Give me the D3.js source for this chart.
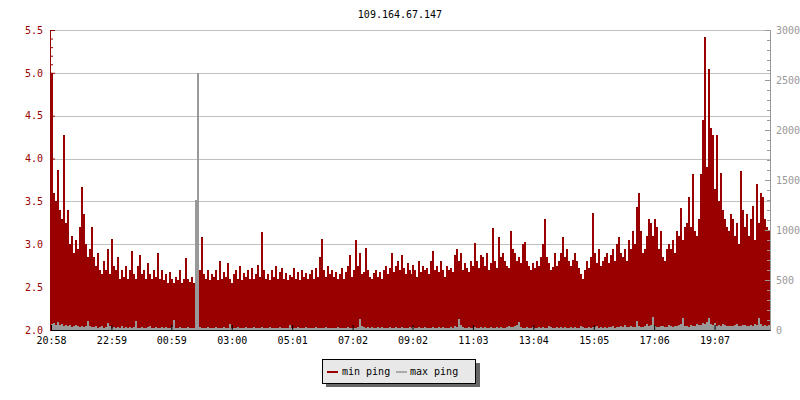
<!DOCTYPE html>
<html><head><meta charset="utf-8">
<script src="https://cdn.jsdelivr.net/npm/d3@7/dist/d3.min.js"></script>
<style>
body{margin:0;background:#fff}
svg{display:block}
text{font-family:"DejaVu Sans Mono",monospace;font-size:10px}
</style>
</head><body><svg id="c" width="800" height="400"></svg>
<script>
const title = "109.164.67.147";
const startTime = "2024-01-01T20:58:00";
const spanMinutes = 1440;
const stepMinutes = 4;

const minPing = [
5.0,3.6,3.5,3.87,3.4,3.3,4.27,3.25,3.4,3.0,3.1,2.9,3.05,2.95,3.2,3.67,3.35,3.0,2.85,2.95,
3.2,2.85,2.75,2.9,2.7,2.65,2.8,2.7,2.94,2.65,3.06,2.75,2.7,2.85,2.6,2.7,2.62,2.75,2.6,2.7,
2.92,2.65,2.6,2.75,2.88,2.65,2.7,2.6,2.78,2.65,2.6,2.7,2.62,2.9,2.6,2.7,2.58,2.65,2.55,2.68,
2.6,2.55,2.62,2.58,2.7,2.55,2.6,2.84,2.6,2.56,2.62,2.55,2.68,2.6,2.7,3.08,2.65,2.6,2.7,2.58,
2.65,2.62,2.7,2.58,2.8,2.6,2.68,2.62,2.78,2.6,2.55,2.65,2.7,2.6,2.75,2.58,2.66,2.62,2.7,2.6,
2.72,2.6,2.65,2.76,2.62,3.14,2.7,2.6,2.65,2.58,2.7,2.62,2.75,2.6,2.68,2.72,2.6,2.66,2.58,2.64,
2.62,2.72,2.6,2.68,2.58,2.7,2.62,2.66,2.6,2.65,2.7,2.6,2.72,2.62,2.85,3.06,2.7,2.62,2.75,2.65,
2.7,2.62,2.68,2.6,2.65,2.72,2.6,2.68,2.75,2.88,2.62,2.7,3.05,2.75,2.9,2.65,2.68,2.96,2.7,2.62,
2.6,2.66,2.7,2.62,2.68,2.6,2.7,2.75,2.65,2.72,2.9,2.68,2.75,2.8,2.7,2.88,2.72,2.65,2.78,2.7,
2.65,2.76,2.7,2.62,2.8,2.68,2.75,2.7,2.72,2.65,2.8,2.92,2.7,2.75,2.68,2.8,2.7,2.62,2.75,2.7,
2.72,2.68,2.88,2.95,2.8,2.9,2.7,2.78,2.72,2.68,2.8,2.75,3.02,2.8,2.72,2.88,2.85,2.75,2.9,2.7,
2.78,3.19,2.8,2.72,3.08,2.85,2.9,2.8,2.75,2.72,3.16,2.95,2.9,2.8,2.85,2.78,3.0,3.03,2.8,2.75,
2.7,2.78,2.72,2.8,2.75,2.85,3.0,3.3,2.85,2.78,2.7,2.74,2.9,2.75,2.8,2.9,3.08,2.85,2.95,2.8,
2.75,2.82,2.9,2.8,2.72,2.65,2.6,2.7,2.8,2.72,2.85,3.37,2.9,2.78,2.95,2.75,2.8,2.85,2.9,2.78,
2.88,2.95,2.8,3.0,3.08,2.9,2.85,2.95,2.8,3.05,2.95,3.15,3.0,3.43,3.6,3.15,2.9,2.95,3.1,3.3,
3.25,3.1,3.3,3.2,2.95,3.15,2.85,2.8,2.95,3.0,2.95,3.05,2.9,3.15,3.1,3.42,3.05,3.2,3.25,3.55,
3.2,3.82,3.15,3.1,3.3,3.82,4.45,5.42,3.9,5.05,4.36,4.27,3.65,4.27,3.5,3.83,3.4,3.3,3.2,3.15,
3.35,3.3,3.1,3.25,3.0,3.86,3.4,3.2,3.35,3.1,3.3,3.45,3.05,3.7,3.25,3.6,3.55,3.3,3.2,3.15
];

const maxPing = [
60,70,50,80,55,60,45,50,40,55,35,45,50,40,30,45,35,40,90,40,
30,35,40,25,30,45,20,35,70,40,25,30,20,35,25,40,20,30,25,35,
20,30,90,25,20,35,25,20,30,40,20,25,30,20,25,35,20,30,20,25,
30,100,25,20,30,20,25,20,30,20,25,20,1300,2570,30,20,25,20,30,20,
25,20,30,20,20,25,30,20,25,60,20,25,20,30,20,25,20,30,20,25,
20,30,20,25,20,30,25,20,20,30,20,25,20,25,30,20,20,25,20,50,
20,25,20,30,20,20,25,30,20,20,25,20,30,20,25,20,20,30,20,25,
20,25,20,30,20,25,20,20,30,25,20,25,20,30,110,40,30,25,35,20,
30,25,20,35,25,30,20,25,20,30,25,20,35,20,25,30,20,25,20,30,
20,30,25,20,35,20,25,30,20,25,20,30,20,25,35,20,30,20,25,20,
30,25,40,35,110,50,30,25,20,30,20,25,30,20,25,30,20,35,25,20,
30,20,25,35,20,30,25,20,30,40,35,30,45,50,80,30,25,20,30,25,
20,30,25,20,35,25,30,20,25,40,30,25,20,30,25,35,20,30,25,20,
30,25,35,20,25,40,30,25,20,30,25,35,30,40,25,30,20,35,25,30,
30,40,25,35,30,45,30,50,35,30,40,35,30,90,40,35,30,45,60,40,
50,130,40,35,30,45,40,35,30,50,40,35,45,40,50,60,120,45,40,35,
50,40,45,60,55,50,70,60,80,120,60,50,70,45,55,40,60,50,45,40,
45,40,50,60,45,40,55,50,45,40,50,45,60,50,120,60,45,50,40,50
];

const xTickLabels = ["20:58","22:59","00:59","03:00","05:01","07:02","09:02","11:03","13:04","15:05","17:06","19:07"];
const leftTicks = [2.0,2.5,3.0,3.5,4.0,4.5,5.0,5.5];
const rightTicks = [0,500,1000,1500,2000,2500,3000];
const legendLabels = ["min ping","max ping"];

const RED = "#990000", GRAY = "#999999";
const svg = d3.select("#c");
const start = new Date(startTime);
const end = new Date(start.getTime() + spanMinutes * 60000);
const x = d3.scaleTime().domain([start, end]).range([51, 770]);
const yL = d3.scaleLinear().domain([2, 5.5]).range([330, 30]);
const yR = d3.scaleLinear().domain([0, 3000]).range([330, 30]);

const timeAt = i => new Date(start.getTime() + i * stepMinutes * 60000);
const withEnd = arr => arr.map((v, i) => ({t: timeAt(i), v})).concat([{t: timeAt(arr.length), v: arr[arr.length - 1]}]);

// tick times from labels (roll over midnight)
let dayOffset = 0, prevMin = -1;
const tickTimes = xTickLabels.map(l => {
  const [h, m] = l.split(":").map(Number);
  const mins = h * 60 + m;
  if (prevMin >= 0 && mins < prevMin) dayOffset += 1;
  prevMin = mins;
  const d = new Date(start); d.setHours(h, m, 0, 0); d.setDate(d.getDate() + dayOffset);
  return d;
});

// title
svg.append("text").attr("x", 400).attr("y", 18).attr("text-anchor", "middle").attr("fill", "#000").text(title);

// grid
svg.append("g").selectAll("line").data(leftTicks).join("line")
  .attr("x1", 51).attr("x2", 770)
  .attr("y1", d => Math.round(yL(d)) + 0.5).attr("y2", d => Math.round(yL(d)) + 0.5)
  .attr("stroke", "#c0c0c0").attr("shape-rendering", "crispEdges");

const clip = svg.append("clipPath").attr("id", "pc").append("rect").attr("x", 51).attr("y", 0).attr("width", 719).attr("height", 330);
const plot = svg.append("g").attr("clip-path", "url(#pc)");

plot.append("path").datum(withEnd(minPing))
  .attr("d", d3.area().curve(d3.curveStepAfter).x(d => x(d.t)).y0(330).y1(d => yL(d.v)))
  .attr("fill", RED).attr("shape-rendering", "crispEdges");

plot.append("path").datum(withEnd(maxPing))
  .attr("d", d3.area().curve(d3.curveStepAfter).x(d => x(d.t)).y0(330).y1(d => yR(d.v)))
  .attr("fill", GRAY).attr("shape-rendering", "crispEdges");

// left axis
const minorL = d3.range(20, 56).map(v => v / 10);
svg.append("g").attr("transform", "translate(50,0)")
  .call(d3.axisLeft(yL).tickValues(minorL).tickSize(-3).tickFormat(""))
  .call(g => g.selectAll("path,line").attr("stroke", RED));
svg.append("g").attr("transform", "translate(50,0)")
  .call(d3.axisLeft(yL).tickValues(leftTicks).tickSizeInner(-5).tickSizeOuter(0).tickPadding(7).tickFormat(d3.format(".1f")))
  .call(g => g.selectAll("path,line").attr("stroke", RED))
  .call(g => g.selectAll("text").attr("fill", RED).style("font-size", "10px").style("font-family", "DejaVu Sans Mono"));

// right axis
const minorR = d3.range(0, 31).map(v => v * 100);
svg.append("g").attr("transform", "translate(770,0)")
  .call(d3.axisRight(yR).tickValues(minorR).tickSize(-3).tickFormat(""))
  .call(g => g.selectAll("path,line").attr("stroke", GRAY));
svg.append("g").attr("transform", "translate(770,0)")
  .call(d3.axisRight(yR).tickValues(rightTicks).tickSizeInner(-5).tickSizeOuter(0).tickPadding(6).tickFormat(d3.format("d")))
  .call(g => g.selectAll("path,line").attr("stroke", GRAY))
  .call(g => g.selectAll("text").attr("fill", GRAY).style("font-size", "10px").style("font-family", "DejaVu Sans Mono"));

// bottom axis
svg.append("g").attr("transform", "translate(0,330)")
  .call(d3.axisBottom(x).tickValues(tickTimes).tickSizeInner(-5).tickSizeOuter(0).tickPadding(7)
    .tickFormat((d, i) => xTickLabels[i]))
  .call(g => g.selectAll("path,line").attr("stroke", "#000"))
  .call(g => g.selectAll("text").attr("fill", "#000").style("font-size", "10px").style("font-family", "DejaVu Sans Mono"));

// legend
const lg = svg.append("g");
lg.append("rect").attr("x", 326).attr("y", 363).attr("width", 154).attr("height", 24).attr("fill", "#666");
lg.append("rect").attr("x", 322.5).attr("y", 359.5).attr("width", 153).attr("height", 24)
  .attr("fill", "#e8e8e8").attr("stroke", "#000");
const items = [{label: legendLabels[0], color: RED, sx: 327, tx: 342}, {label: legendLabels[1], color: "#aaaaaa", sx: 396, tx: 410}];
items.forEach(it => {
  lg.append("line").attr("x1", it.sx).attr("x2", it.sx + 11).attr("y1", 372).attr("y2", 372)
    .attr("stroke", it.color).attr("stroke-width", 2);
  lg.append("text").attr("x", it.tx).attr("y", 375).attr("fill", "#000").text(it.label);
});
</script>
</body></html>
